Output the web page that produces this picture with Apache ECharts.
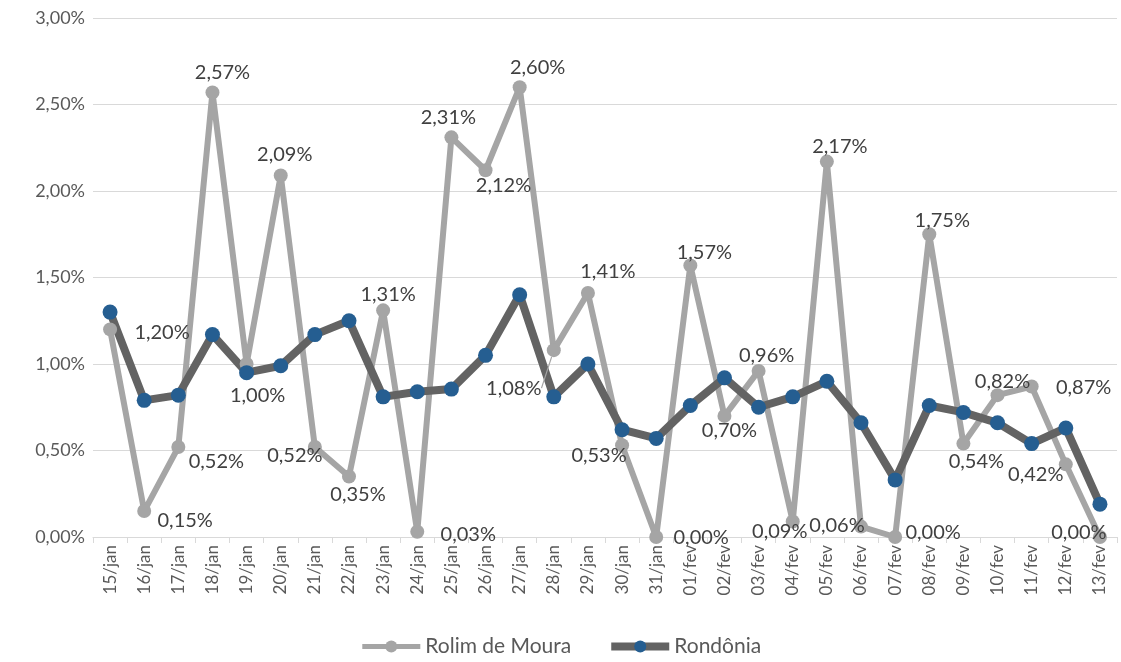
<!DOCTYPE html>
<html><head><meta charset="utf-8">
<script src="https://cdn.jsdelivr.net/npm/echarts@6/dist/echarts.min.js"></script>
<style>html,body{margin:0;padding:0;background:#fff}#c{width:1121px;height:662px}</style>
</head><body><div id="c"></div>
<script>
const categories = ['15/jan','16/jan','17/jan','18/jan','19/jan','20/jan','21/jan','22/jan','23/jan','24/jan','25/jan','26/jan','27/jan','28/jan','29/jan','30/jan','31/jan','01/fev','02/fev','03/fev','04/fev','05/fev','06/fev','07/fev','08/fev','09/fev','10/fev','11/fev','12/fev','13/fev'];
const rolimDeMoura = [1.20,0.15,0.52,2.57,1.00,2.09,0.52,0.35,1.31,0.03,2.31,2.12,2.60,1.08,1.41,0.53,0.00,1.57,0.70,0.96,0.09,2.17,0.06,0.00,1.75,0.54,0.82,0.87,0.42,0.00];
const rondonia = [1.30,0.79,0.82,1.17,0.95,0.99,1.17,1.25,0.81,0.84,0.855,1.05,1.40,0.81,1.00,0.62,0.57,0.76,0.92,0.75,0.81,0.90,0.66,0.33,0.76,0.72,0.66,0.54,0.63,0.19];
// label offsets (style only): [dx, dy] from the marker centre
const rolimLabelOffsets = [[52,3],[41,9],[38,15],[10,-20],[11,32],[4,-21],[-20,9],[9,18],[5,-16],[51,3],[-3,-20],[18,15],[18,-20],[-40,38],[20,-22],[-23,10],[45,1],[14,-13],[5,15],[8,-15],[-13,10],[13,-15],[-24,-1],[38,-4],[13,-14],[13,18],[5,-14],[52,1],[-30,10],[-21,-4]];
const leaderLineIndex = 13;

const fmt = v => Number(v).toFixed(2).replace('.', ',') + '%';
const FONT = 'Lato';

const rolimData = rolimDeMoura.map((v, i) => ({
  value: v,
  labelLine: { show: i === leaderLineIndex }
}));

const chart = echarts.init(document.getElementById('c'), null, { renderer: 'canvas' });
chart.setOption({
  backgroundColor: '#ffffff',
  animation: false,
  grid: { left: 93, right: 4, top: 18, bottom: 125, containLabel: false },
  legend: {
    top: 631, left: 'center',
    itemWidth: 58, itemHeight: 15, itemGap: 36,
    textStyle: { fontFamily: FONT, fontSize: 21, color: '#595959' },
    data: [
      { name: 'Rolim de Moura', lineStyle: { width: 5, color: '#a5a5a5' } },
      { name: 'Rondônia', lineStyle: { width: 8, color: '#636363' } }
    ]
  },
  xAxis: {
    type: 'category', data: categories, boundaryGap: true,
    axisLine: { show: true, lineStyle: { color: '#d9d9d9', width: 1 } },
    axisTick: { show: true, alignWithLabel: false, length: 6, lineStyle: { color: '#d9d9d9' } },
    axisLabel: { rotate: 90, interval: 0, margin: 8, fontFamily: FONT, fontSize: 17, color: '#595959' },
    splitLine: { show: false }
  },
  yAxis: {
    type: 'value', min: 0, max: 3, interval: 0.5,
    axisLine: { show: false }, axisTick: { show: false },
    axisLabel: { formatter: v => fmt(v), fontFamily: FONT, fontSize: 18, color: '#595959', margin: 8 },
    splitLine: { lineStyle: { color: '#d9d9d9', width: 1 } }
  },
  series: [
    {
      name: 'Rolim de Moura', type: 'line', data: rolimData,
      symbol: 'circle', symbolSize: 14,
      lineStyle: { color: '#a5a5a5', width: 6 },
      itemStyle: { color: '#a5a5a5' },
      label: { show: true, position: 'inside', formatter: p => fmt(p.value),
               fontFamily: FONT, fontSize: 20, color: '#404040' },
      labelLine: { show: true, smooth: false, lineStyle: { color: '#a5a5a5', width: 1.2 } },
      labelLayout: p => ({ dx: rolimLabelOffsets[p.dataIndex][0], dy: rolimLabelOffsets[p.dataIndex][1] }),
      z: 2
    },
    {
      name: 'Rondônia', type: 'line', data: rondonia,
      symbol: 'circle', symbolSize: 15,
      lineStyle: { color: '#636363', width: 8 },
      itemStyle: { color: '#255e91' },
      label: { show: false },
      z: 2
    }
  ]
});
</script></body></html>
